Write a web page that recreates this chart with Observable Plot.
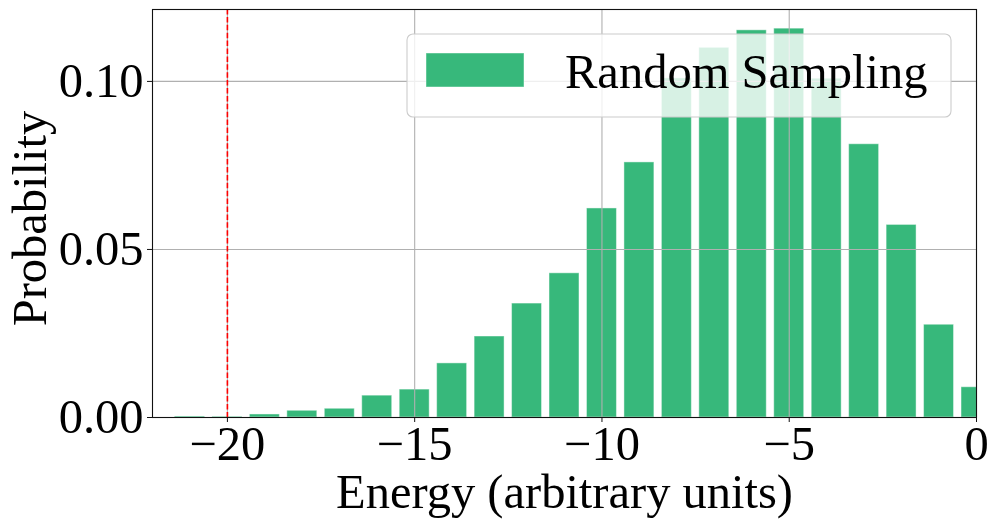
<!DOCTYPE html>
<html>
<head>
<meta charset="utf-8">
<script src="https://cdn.jsdelivr.net/npm/d3@7"></script>
<script src="https://cdn.jsdelivr.net/npm/@observablehq/plot@0.6"></script>
<style>
  html, body { margin: 0; padding: 0; background: white; }
</style>
</head>
<body>
<div id="chart"></div>
<script>
// ---- data ----
const energies = [-21, -20, -19, -18, -17, -16, -15, -14, -13, -12, -11, -10, -9, -8, -7, -6, -5, -4, -3, -2, -1, 0];
const probabilities = [0.0003, 0.0002, 0.0009, 0.0020, 0.0026, 0.0065, 0.0083, 0.0161, 0.0241, 0.0339, 0.0429, 0.0622, 0.0759, 0.1009, 0.1100, 0.1152, 0.1157, 0.1008, 0.0813, 0.0573, 0.0276, 0.0090];
const xTicks = [-20, -15, -10, -5, 0];
const yTicks = [0, 0.05, 0.10];
const threshold = [-20];
const seriesName = "Random Sampling";
const xLabel = "Energy (arbitrary units)";
const yLabel = "Probability";
const barColor = "#37b87b";
const binWidth = 0.8;

const data = energies.map((e, i) => ({e, p: probabilities[i]}));
const FONT = "'Liberation Serif', 'Times New Roman', Times, serif";
const FS = 48.5;

const svg = Plot.plot({
  width: 997,
  height: 529,
  marginLeft: 152,
  marginRight: 21,
  marginTop: 9,
  marginBottom: 112,
  x: {domain: [-22, 0]},
  y: {domain: [0, 0.1214]},
  style: {fontFamily: FONT, fontSize: FS + "px", background: "white", color: "black", overflow: "visible"},
  marks: [
    Plot.rect(data, {
      x1: d => d.e - binWidth / 2,
      x2: d => d.e + binWidth / 2,
      y1: 0,
      y2: "p",
      fill: barColor,
      stroke: "white",
      strokeOpacity: 0.45,
      strokeWidth: 1,
      clip: true
    }),
    Plot.gridX({ticks: xTicks, stroke: "#b0b0b0", strokeOpacity: 1, strokeWidth: 1.1}),
    Plot.gridY({ticks: yTicks, stroke: "#b0b0b0", strokeOpacity: 1, strokeWidth: 1.1}),
    Plot.ruleX(threshold, {stroke: "red", strokeWidth: 1.6, strokeDasharray: "5.5,2.4"}),
    Plot.frame({stroke: "#111", strokeWidth: 1.1}),
    Plot.axisX({ticks: xTicks, tickSize: 5, tickPadding: 3, tickFormat: d3.format("d"), label: null, fontSize: FS, stroke: "#111"}),
    Plot.axisY({ticks: yTicks, tickSize: 5, tickPadding: 4, tickFormat: d3.format(".2f"), label: null, fontSize: FS, stroke: "#111"}),
    Plot.text([xLabel], {text: d => d, frameAnchor: "bottom", dy: 75, lineAnchor: "middle", textAnchor: "middle", fontSize: FS, fill: "black"}),
    Plot.text([yLabel], {text: d => d, frameAnchor: "left", rotate: -90, dx: -122, dy: 5, lineAnchor: "middle", textAnchor: "middle", fontSize: FS, fill: "black"})
  ]
});

// ---- legend (inside plot, upper right) ----
const g = d3.select(svg).append("g");
g.append("rect")
  .attr("x", 407).attr("y", 34).attr("width", 544).attr("height", 83)
  .attr("rx", 6).attr("ry", 6)
  .attr("fill", "white").attr("fill-opacity", 0.8)
  .attr("stroke", "#cccccc").attr("stroke-width", 1.1);
g.append("rect")
  .attr("x", 426).attr("y", 53).attr("width", 98).attr("height", 34)
  .attr("fill", barColor)
  .attr("stroke", "white").attr("stroke-opacity", 0.45).attr("stroke-width", 1);
g.append("text")
  .attr("x", 565).attr("y", 88)
  .attr("text-anchor", "start")
  .attr("font-family", FONT).attr("font-size", FS)
  .attr("fill", "black")
  .text(seriesName);

document.getElementById("chart").appendChild(svg);
</script>
</body>
</html>
